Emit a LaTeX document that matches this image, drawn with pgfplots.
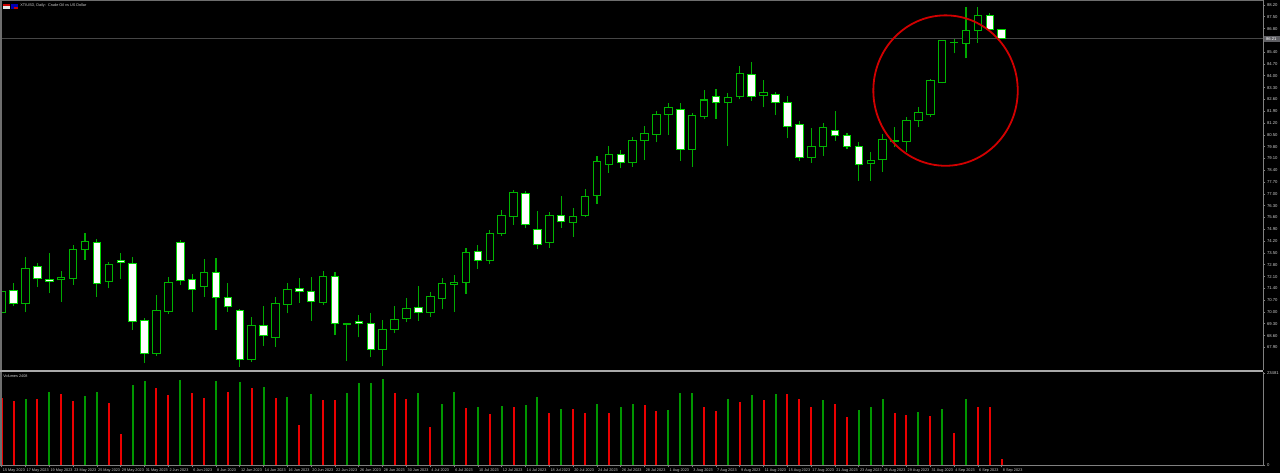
\documentclass[border=0pt]{standalone}
\usepackage{pgfplots}
\usepackage{pgfplotstable}
\pgfplotsset{compat=1.18}
\usepackage{fontspec}
\setmainfont{Liberation Sans}
\definecolor{cgreen}{RGB}{0,215,0}
\definecolor{bgreen}{RGB}{0,180,0}
\definecolor{wgreen}{RGB}{0,170,0}
\definecolor{vgreen}{RGB}{0,150,0}
\definecolor{vred}{RGB}{235,0,0}
\definecolor{axgray}{RGB}{128,128,128}
\definecolor{sepgray}{RGB}{170,170,170}
\definecolor{bordgray}{RGB}{110,110,110}
\definecolor{txtgray}{RGB}{205,205,205}
\definecolor{pline}{RGB}{70,70,70}
\definecolor{hlgray}{RGB}{95,95,100}
\definecolor{circred}{RGB}{210,0,0}
\newcommand\tinyfont{\fontsize{2.1}{2.4}\selectfont}
\newcommand\datefont{\fontsize{1.9}{2.2}\selectfont}

% bullish candles: i open high low close
\pgfplotstableread{
i o h l c
0 69.98 71.36 69.88 71.20
2 70.51 73.24 69.98 72.59
5 71.90 72.45 70.61 72.06
6 72.00 73.97 71.60 73.68
7 73.68 74.67 73.08 74.17
9 71.80 72.98 71.40 72.79
13 67.55 71.01 67.39 70.10
14 70.02 72.09 69.88 71.76
17 71.50 73.12 70.91 72.35
21 67.19 69.72 67.05 69.19
23 68.50 70.87 67.94 70.51
24 70.46 71.74 69.92 71.36
27 70.55 72.45 70.41 72.13
29 69.27 69.36 67.09 69.29
32 67.79 69.52 66.81 68.97
33 68.99 70.35 68.74 69.57
34 69.62 70.83 69.38 70.22
36 69.96 71.20 69.72 70.89
37 70.81 72.03 70.16 71.70
38 71.63 72.19 70.02 71.72
39 71.74 73.78 71.07 73.51
41 73.04 74.86 72.84 74.67
42 74.64 76.05 74.51 75.73
43 75.65 77.23 75.18 77.10
46 74.11 75.91 73.81 75.71
48 75.32 76.17 74.46 75.67
49 75.71 77.27 75.65 76.82
50 76.92 79.25 76.39 78.91
51 78.76 79.84 78.26 79.33
53 78.89 80.38 78.60 80.14
54 80.14 81.03 79.01 80.58
55 80.54 81.94 80.06 81.72
56 81.72 82.37 80.49 82.14
58 79.66 81.82 78.61 81.66
59 81.58 83.16 81.44 82.57
61 82.41 82.97 79.84 82.73
62 82.75 84.59 82.61 84.13
64 82.85 83.76 82.14 83.03
68 79.15 80.89 78.85 79.80
69 79.80 81.22 79.25 80.93
73 78.79 79.47 77.77 79.01
74 79.04 80.58 78.32 80.20
75 80.13 80.95 79.78 80.14
76 80.11 81.54 79.50 81.38
77 81.37 82.14 80.99 81.84
78 81.72 83.80 81.58 83.70
79 83.60 86.13 83.56 86.11
80 85.98 86.19 85.34 85.99
81 85.93 88.10 85.04 86.68
82 86.68 88.10 85.97 87.59
}\bull

% bearish candles
\pgfplotstableread{
i o h l c
1 71.30 71.70 70.35 70.51
3 72.68 72.92 71.50 71.96
4 71.94 73.48 71.11 71.82
8 74.13 74.31 70.91 71.70
10 73.08 73.48 71.96 72.96
11 72.89 73.28 68.93 69.46
12 69.52 69.62 66.96 67.51
15 74.13 74.27 71.60 71.85
16 71.90 72.25 70.02 71.36
18 72.37 73.20 68.93 70.85
19 70.87 71.70 70.02 70.30
20 70.06 70.16 66.75 67.21
22 69.21 70.37 68.00 68.59
25 71.42 72.01 70.55 71.24
26 71.20 72.09 69.48 70.63
28 72.13 72.39 68.63 69.30
30 69.45 69.84 68.50 69.29
31 69.29 69.92 67.31 67.79
35 70.28 71.57 69.49 69.96
40 73.60 73.97 72.55 73.08
44 77.01 77.17 74.96 75.16
45 74.90 75.99 73.73 74.03
47 75.73 76.88 75.00 75.35
52 79.31 79.61 78.52 78.85
57 82.02 82.37 78.97 79.66
60 82.77 83.22 81.44 82.41
63 84.09 84.81 82.53 82.77
65 82.91 83.06 81.68 82.41
66 82.43 82.83 80.30 80.99
67 81.09 81.32 78.95 79.17
70 80.77 81.94 80.16 80.44
71 80.44 80.60 79.65 79.80
72 79.84 80.06 77.78 78.76
83 87.59 87.75 86.66 86.78
84 86.78 86.81 86.19 86.21
}\bear

% volumes that rose (green) and fell (red)
\pgfplotstableread{
i v
2 16907
4 18615
7 17519
8 18539
11 20477
12 21420
15 21752
18 21420
20 21165
22 19967
24 17340
26 18105
29 18437
30 20910
31 20987
32 21854
35 18360
37 15479
38 18539
40 14714
42 15045
44 15224
45 17340
47 14280
50 15555
52 14714
53 15632
56 13949
57 18437
58 18488
61 16907
63 17774
65 18182
69 16575
72 14102
73 14790
74 16830
77 13592
79 14280
81 16754
}\volup

\pgfplotstableread{
i v
0 17009
1 16397
3 16754
5 18105
6 16320
9 15887
10 7982
13 19712
14 17850
16 18360
17 17009
19 18615
21 19635
23 17085
25 10277
27 16575
28 16524
33 18284
34 16907
36 9690
39 14612
41 12929
43 14790
46 13337
48 14204
49 13260
51 13337
54 15300
55 13770
59 14714
60 13770
62 16065
64 16575
66 18156
67 16907
68 14867
70 15632
71 12240
75 13337
76 12827
78 12572
80 8237
82 14714
83 14688
84 1530
}\voldown

\begin{document}
\begin{tikzpicture}
\fill[black] (0pt,0pt) rectangle (640pt,236.5pt);
\useasboundingbox (0pt,0pt) rectangle (640pt,236.5pt);

% ---------------- price panel ----------------
\begin{axis}[
  at={(0pt,51.5pt)}, anchor=south west, scale only axis,
  width=631.5pt, height=185pt,
  xmin=-0.1428, xmax=105.947, ymin=66.559, ymax=88.5,
  axis x line=none, axis y line*=right,
  y axis line style={draw=axgray, line width=0.5pt, -},
  ytick={88.2,87.5,86.8,85.4,84.7,84.0,83.3,82.6,81.9,81.2,80.5,79.8,79.1,78.4,77.7,77.0,76.3,75.6,74.9,74.2,73.5,72.8,72.1,71.4,70.7,70.0,69.3,68.6,67.9},
  tick align=outside, major tick length=1.2pt,
  ytick style={draw=axgray, line width=0.4pt},
  yticklabel style={font=\tinyfont, text=txtgray, inner sep=0.6pt, anchor=west},
  /pgf/number format/fixed, /pgf/number format/fixed zerofill,
  /pgf/number format/precision=2, /pgf/number format/assume math mode=true,
]
% current price line
\addplot[draw=pline, line width=0.5pt, forget plot] coordinates {(-1,86.21) (107,86.21)};
% wicks
\addplot[draw=none, mark=none, forget plot,
  error bars/.cd, y dir=plus, y explicit, error mark=none,
  error bar style={draw=wgreen, line width=0.55pt}]
  table[x=i, y=l, y error plus expr={\thisrow{h}-\thisrow{l}}] {\bull};
\addplot[draw=none, mark=none, forget plot,
  error bars/.cd, y dir=plus, y explicit, error mark=none,
  error bar style={draw=wgreen, line width=0.55pt}]
  table[x=i, y=l, y error plus expr={\thisrow{h}-\thisrow{l}}] {\bear};
% body outlines
\addplot[draw=none, mark=none, forget plot,
  error bars/.cd, y dir=plus, y explicit, error mark=none,
  error bar style={draw=bgreen, line width=4.25pt, line cap=butt}]
  table[x=i, y expr={\thisrow{o}-0.03}, y error plus expr={\thisrow{c}-\thisrow{o}+0.06}] {\bull};
\addplot[draw=none, mark=none, forget plot,
  error bars/.cd, y dir=plus, y explicit, error mark=none,
  error bar style={draw=cgreen, line width=4.25pt, line cap=butt}]
  table[x=i, y expr={\thisrow{c}-0.03}, y error plus expr={\thisrow{o}-\thisrow{c}+0.06}] {\bear};
% body fills
\addplot[draw=none, mark=none, forget plot,
  error bars/.cd, y dir=plus, y explicit, error mark=none,
  error bar style={draw=black, line width=3.25pt, line cap=butt}]
  table[x=i, y expr={\thisrow{o}+0.03}, y error plus expr={max(\thisrow{c}-\thisrow{o}-0.06,0)}] {\bull};
\addplot[draw=none, mark=none, forget plot,
  error bars/.cd, y dir=plus, y explicit, error mark=none,
  error bar style={draw=white, line width=3.25pt, line cap=butt}]
  table[x=i, y expr={\thisrow{c}+0.03}, y error plus expr={max(\thisrow{o}-\thisrow{c}-0.06,0)}] {\bear};
% highlight ellipse
\draw[draw=circred, line width=0.9pt] (axis cs:79.28,83.13) ellipse [x radius=36.1pt, y radius=37.6pt];
\end{axis}

% ---------------- volume panel ----------------
\begin{axis}[
  at={(0pt,4pt)}, anchor=south west, scale only axis,
  width=631.5pt, height=46.5pt,
  xmin=-0.1428, xmax=105.947, ymin=0, ymax=23715,
  scaled y ticks=false,
  axis x line*=bottom, axis y line*=right,
  x axis line style={draw=axgray, line width=0.5pt, -},
  y axis line style={draw=axgray, line width=0.5pt, -},
  tick align=outside, major tick length=1.2pt,
  tick style={draw=axgray, line width=0.4pt},
  xtick={0,2,...,84},
  xticklabels={15 May 2023,17 May 2023,19 May 2023,23 May 2023,25 May 2023,29 May 2023,31 May 2023,2 Jun 2023,6 Jun 2023,8 Jun 2023,12 Jun 2023,14 Jun 2023,16 Jun 2023,20 Jun 2023,22 Jun 2023,26 Jun 2023,28 Jun 2023,30 Jun 2023,4 Jul 2023,6 Jul 2023,10 Jul 2023,12 Jul 2023,14 Jul 2023,18 Jul 2023,20 Jul 2023,24 Jul 2023,26 Jul 2023,28 Jul 2023,1 Aug 2023,3 Aug 2023,7 Aug 2023,9 Aug 2023,11 Aug 2023,15 Aug 2023,17 Aug 2023,21 Aug 2023,23 Aug 2023,25 Aug 2023,29 Aug 2023,31 Aug 2023,4 Sep 2023,6 Sep 2023,8 Sep 2023},
  xticklabel style={font=\datefont, text=txtgray, anchor=north west, inner sep=0.4pt},
  ytick={0,23481}, yticklabels={0,23481},
  yticklabel style={font=\tinyfont, text=txtgray, inner sep=0.6pt, anchor=west},
]
\addplot[ycomb, draw=vgreen, line width=1pt, mark=none] table[x=i, y=v] {\volup};
\addplot[ycomb, draw=vred, line width=1pt, mark=none] table[x=i, y=v] {\voldown};
\end{axis}

% ---------------- frame and labels ----------------
\begin{scope}[x=0.5pt, y=0.5pt]
\draw[draw=bordgray, line width=0.75pt] (0,472.6) -- (1263,472.6);
\draw[draw=bordgray, line width=0.9pt] (0.8,8) -- (0.8,473);
\fill[sepgray] (0,101) rectangle (1263,103.2);
\fill[hlgray] (1263.5,431) rectangle (1280,437.5);
\node[anchor=west, font=\tinyfont, text=white, inner sep=0pt] at (1265.6,434.3) {86.21};
% small symbol flags
\fill[white!80!gray] (3,464.5) rectangle (9.5,469.5);
\fill[red!80!black] (3,467) rectangle (9.5,469.5);
\fill[blue!70!black] (11,464.5) rectangle (17.5,469.5);
\fill[red!80!black] (14,464.5) rectangle (17.5,466.5);
\node[anchor=west, font=\datefont, text=txtgray, inner sep=0pt] at (20,467) {XTIUSD, Daily:\ \ Crude Oil vs US Dollar};
\node[anchor=west, font=\datefont, text=txtgray, inner sep=0pt] at (3,97) {Volumes 2408};
\end{scope}
\end{tikzpicture}
\end{document}
